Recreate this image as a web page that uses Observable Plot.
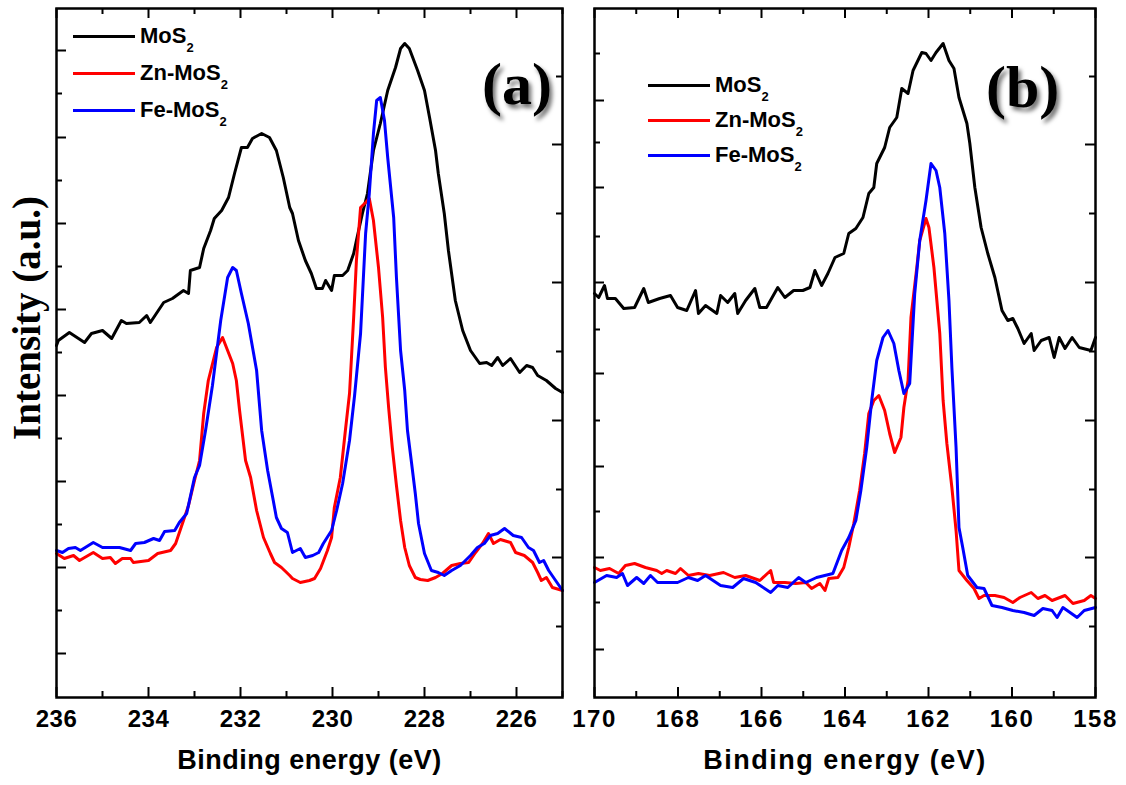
<!DOCTYPE html>
<html><head><meta charset="utf-8">
<script src="https://cdn.jsdelivr.net/npm/d3@7"></script>
<script src="https://cdn.jsdelivr.net/npm/@observablehq/plot@0.6"></script>
<style>
body{margin:0;background:#fff;}
#wrap{position:relative;width:1126px;height:785px;overflow:hidden;font-family:"Liberation Sans",Arial,sans-serif;}
.panel{position:absolute;top:0;}
.row{position:absolute;display:flex;align-items:center;white-space:nowrap;font-weight:bold;font-size:22px;line-height:24px;color:#000;}
.sw{display:inline-block;width:62px;height:3px;margin-right:5px;}
.row sub{font-size:13px;vertical-align:-9px;line-height:0;}
.tag{position:absolute;font-family:"Liberation Serif",serif;font-weight:bold;font-size:60px;line-height:1;color:#000;text-shadow:3px 4px 4px rgba(0,0,0,0.55);}
.ytitle{position:absolute;left:26px;top:318px;transform:translate(-50%,-50%) rotate(-90deg);font-family:"Liberation Serif",serif;font-weight:bold;font-size:39px;line-height:1;white-space:nowrap;color:#000;}
</style></head>
<body><div id="wrap"></div>
<script>
// ---------- DATA (binding energy eV, intensity a.u.) ----------
const seriesNames = ["MoS2", "Zn-MoS2", "Fe-MoS2"];
const seriesColors = ["#000000", "#ff0000", "#0000ff"];

// Panel (a): Mo 3d region
const a_MoS2 = [[236.00,352],[235.96,357],[235.72,365],[235.39,355],[235.24,364],[235.00,367],[234.80,359],[234.59,377],[234.48,374],[234.20,375],[234.04,382],[233.96,375],[233.67,395],[233.48,399],[233.24,407],[233.13,404],[233.09,427],[232.89,430],[232.80,449],[232.65,467],[232.57,479],[232.41,487],[232.26,500],[232.13,524],[231.98,550],[231.85,550],[231.74,559],[231.54,564],[231.37,560],[231.22,547],[231.07,520],[230.93,490],[230.87,484],[230.74,457],[230.59,437],[230.46,424],[230.35,409],[230.22,409],[230.15,417],[230.02,407],[229.96,422],[229.78,422],[229.67,427],[229.54,444],[229.48,457],[229.35,484],[229.24,504],[229.11,547],[228.96,574],[228.80,607],[228.63,630],[228.52,649],[228.43,654],[228.33,649],[228.15,627],[228.00,607],[227.89,580],[227.76,547],[227.70,524],[227.57,484],[227.48,447],[227.33,397],[227.17,367],[227.00,347],[226.80,334],[226.65,335],[226.54,332],[226.41,340],[226.30,332],[226.13,339],[225.93,325],[225.78,332],[225.65,330],[225.54,322],[225.35,317],[225.15,309],[225.00,305]];
const a_Zn = [[236.00,144],[235.83,139],[235.63,142],[235.50,137],[235.20,145],[235.00,139],[234.83,140],[234.72,134],[234.57,139],[234.39,139],[234.33,135],[234.00,137],[233.80,144],[233.52,147],[233.41,154],[233.24,177],[233.13,192],[233.00,217],[232.89,237],[232.80,284],[232.70,317],[232.52,350],[232.39,360],[232.28,347],[232.17,334],[232.09,317],[232.02,287],[231.89,237],[231.78,220],[231.65,187],[231.50,160],[231.35,144],[231.26,135],[231.11,130],[230.93,122],[230.87,119],[230.70,115],[230.50,117],[230.39,119],[230.26,129],[230.11,147],[230.02,160],[229.96,190],[229.83,220],[229.72,267],[229.63,304],[229.54,380],[229.48,437],[229.39,490],[229.28,495],[229.20,499],[229.11,477],[229.00,430],[228.91,380],[228.85,330],[228.78,290],[228.70,250],[228.61,212],[228.52,177],[228.43,150],[228.33,132],[228.20,120],[228.09,118],[227.93,117],[227.76,120],[227.61,124],[227.41,132],[227.22,134],[227.04,135],[226.89,145],[226.74,154],[226.61,164],[226.50,154],[226.35,158],[226.13,155],[226.02,145],[225.83,142],[225.65,135],[225.54,125],[225.46,117],[225.35,120],[225.22,110],[225.00,107]];
const a_Fe = [[236.00,147],[235.87,145],[235.74,149],[235.59,150],[235.48,147],[235.20,155],[235.00,150],[234.63,150],[234.39,147],[234.28,154],[234.09,155],[233.89,159],[233.76,157],[233.65,166],[233.43,167],[233.33,175],[233.17,184],[233.00,220],[232.89,232],[232.76,267],[232.61,312],[232.43,377],[232.28,420],[232.17,430],[232.09,427],[231.98,404],[231.83,374],[231.65,327],[231.54,267],[231.41,227],[231.30,200],[231.22,180],[231.11,169],[230.98,165],[230.87,145],[230.70,149],[230.59,140],[230.43,142],[230.30,145],[230.20,154],[230.02,167],[229.91,187],[229.78,214],[229.63,257],[229.52,302],[229.39,364],[229.28,464],[229.20,504],[229.11,564],[229.04,597],[228.96,600],[228.87,577],[228.80,540],[228.67,480],[228.61,420],[228.52,347],[228.43,307],[228.37,267],[228.28,234],[228.20,204],[228.13,174],[228.00,144],[227.85,127],[227.70,125],[227.57,122],[227.41,127],[227.22,132],[227.00,142],[226.85,150],[226.70,154],[226.57,162],[226.41,164],[226.26,169],[226.07,162],[225.89,160],[225.74,150],[225.63,147],[225.50,135],[225.41,137],[225.30,127],[225.15,117],[225.00,107]];

// Panel (b): S 2p region
const b_MoS2 = [[170.00,404],[169.90,400],[169.76,412],[169.69,399],[169.50,399],[169.30,389],[169.04,390],[168.82,409],[168.71,395],[168.44,399],[168.18,402],[168.01,390],[167.79,387],[167.58,407],[167.51,384],[167.34,392],[167.07,384],[166.98,402],[166.81,395],[166.64,404],[166.57,384],[166.38,397],[166.16,409],[166.04,390],[165.88,390],[165.61,410],[165.44,400],[165.23,407],[165.01,407],[164.84,410],[164.72,427],[164.56,412],[164.41,424],[164.24,440],[164.03,444],[163.91,464],[163.74,469],[163.57,480],[163.43,504],[163.31,510],[163.24,534],[163.05,550],[162.93,570],[162.76,580],[162.64,609],[162.49,604],[162.37,627],[162.16,645],[162.06,644],[161.94,637],[161.82,645],[161.65,654],[161.51,637],[161.39,629],[161.27,600],[161.08,574],[161.01,554],[160.89,510],[160.74,470],[160.58,444],[160.41,420],[160.24,387],[160.10,377],[159.98,379],[159.86,369],[159.71,354],[159.54,364],[159.47,347],[159.30,357],[159.11,360],[158.99,340],[158.87,360],[158.73,349],[158.56,360],[158.39,350],[158.11,347],[158.00,360]];
const b_Zn = [[170.00,130],[169.86,127],[169.64,129],[169.42,124],[169.26,132],[169.04,134],[168.78,130],[168.51,127],[168.39,124],[168.27,127],[168.06,124],[167.94,129],[167.75,122],[167.51,124],[167.24,122],[166.91,125],[166.64,120],[166.38,122],[166.04,117],[165.78,127],[165.71,115],[165.44,115],[165.18,114],[164.94,115],[164.80,109],[164.60,114],[164.48,107],[164.39,119],[164.17,120],[164.03,130],[163.91,150],[163.79,174],[163.65,207],[163.53,244],[163.43,284],[163.31,297],[163.19,302],[163.05,287],[162.93,264],[162.81,245],[162.66,260],[162.59,290],[162.49,317],[162.42,380],[162.28,430],[162.21,457],[162.06,479],[161.99,470],[161.87,430],[161.73,364],[161.65,297],[161.56,254],[161.44,210],[161.34,167],[161.27,127],[161.08,117],[160.91,109],[160.79,99],[160.67,102],[160.41,102],[160.19,100],[159.98,95],[159.81,100],[159.54,105],[159.38,99],[159.21,102],[159.04,97],[158.73,102],[158.54,94],[158.27,97],[158.11,102],[158.00,99]];
const b_Fe = [[170.00,115],[169.71,122],[169.47,120],[169.33,124],[169.21,112],[168.99,120],[168.82,114],[168.66,122],[168.49,115],[168.01,115],[167.75,120],[167.53,117],[167.34,122],[166.98,112],[166.69,110],[166.43,119],[166.14,115],[165.78,105],[165.61,112],[165.37,110],[165.11,120],[164.94,115],[164.68,120],[164.29,124],[164.08,147],[163.91,160],[163.74,177],[163.62,207],[163.48,250],[163.36,297],[163.24,337],[163.09,360],[162.97,367],[162.83,354],[162.71,327],[162.59,304],[162.45,314],[162.33,404],[162.21,457],[162.06,497],[161.94,534],[161.82,527],[161.73,510],[161.61,464],[161.51,397],[161.44,330],[161.34,250],[161.27,170],[161.18,150],[161.06,122],[160.84,110],[160.67,109],[160.48,92],[160.24,90],[159.98,87],[159.71,85],[159.47,82],[159.26,89],[159.04,87],[158.92,80],[158.78,90],[158.44,80],[158.27,87],[158.00,90]];

// Axis ticks
const aXMajor = [236, 234, 232, 230, 228, 226];
const aXMinor = [235, 233, 231, 229, 227, 225];
const bXMajor = [170, 168, 166, 164, 162, 160, 158];
const bXMinor = [169, 167, 165, 163, 161, 159];
const aYLeftMajor = [647, 560, 474, 388, 302, 216, 130, 44];
const aYLeftMinor = [604, 517, 431, 345, 259, 173, 87];
const bYLeftMajor = [597, 510, 415, 324, 231, 140, 48];
const bYLeftMinor = [644, 555, 461, 368, 277, 186, 95];
const yRightMajor = [553, 415, 277, 140];
const yRightMinor = [621, 484, 346, 208, 71];

const xTitle = "Binding energy (eV)";
const yTitle = "Intensity (a.u.)";
const panelTags = ["(a)", "(b)"];

// ---------- DRAWING ----------
const H = 785, MT = 8, MB = 88;

function panel(o) {
  const pw = o.width - o.ml - o.mr, ph = H - MT - MB;
  const lines = o.series.map((s, i) => Plot.line(s, {x: d => d[0], y: d => d[1], stroke: seriesColors[i], strokeWidth: 3, strokeLinejoin: "round"}));
  const tw = 2;
  const marks = [
    ...lines,
    Plot.tickX(o.xMajor, {x: d => d, insetTop: ph - 10, strokeWidth: tw}),
    Plot.tickX(o.xMinor, {x: d => d, insetTop: ph - 6, strokeWidth: tw}),
    Plot.tickX(o.xMajor, {x: d => d, insetBottom: ph - 10, strokeWidth: tw}),
    Plot.tickX(o.xMinor, {x: d => d, insetBottom: ph - 6, strokeWidth: tw}),
    Plot.tickY(o.yLMajor, {y: d => d, insetRight: pw - 10, strokeWidth: tw}),
    Plot.tickY(o.yLMinor, {y: d => d, insetRight: pw - 6, strokeWidth: tw}),
    Plot.tickY(o.yRMajor, {y: d => d, insetLeft: pw - 10, strokeWidth: tw}),
    Plot.tickY(o.yRMinor, {y: d => d, insetLeft: pw - 6, strokeWidth: tw}),
    Plot.axisX({ticks: o.xMajor, tickSize: 0, tickPadding: 12, fontSize: 24, fontWeight: "bold", label: null, tickFormat: d => String(d)}),
    Plot.text([xTitle], {frameAnchor: "bottom", dy: 71, fontSize: 27, fontWeight: "bold"}),
    Plot.frame({strokeWidth: 2.5})
  ];
  return Plot.plot({
    width: o.width, height: H, marginTop: MT, marginBottom: MB, marginLeft: o.ml, marginRight: o.mr,
    style: {fontFamily: "'Liberation Sans', Arial, sans-serif", background: "transparent", letterSpacing: o.ls, overflow: "visible"},
    x: {domain: o.xDomain},
    y: {domain: [0, 689], axis: null},
    marks
  });
}

const wrap = document.getElementById("wrap");

const pa = panel({width: 575, ml: 56, mr: 13, xDomain: [236, 225], series: [a_MoS2, a_Zn, a_Fe],
  xMajor: aXMajor, xMinor: aXMinor, yLMajor: aYLeftMajor, yLMinor: aYLeftMinor, yRMajor: yRightMajor, yRMinor: yRightMinor, ls: "0.5px"});
const pb = panel({width: 551, ml: 19, mr: 31, xDomain: [170, 158], series: [b_MoS2, b_Zn, b_Fe],
  xMajor: bXMajor, xMinor: bXMinor, yLMajor: bYLeftMajor, yLMinor: bYLeftMinor, yRMajor: yRightMajor, yRMinor: yRightMinor, ls: "1.5px"});

const da = document.createElement("div"); da.className = "panel"; da.style.left = "0px"; da.appendChild(pa); wrap.appendChild(da);
const db = document.createElement("div"); db.className = "panel"; db.style.left = "575px"; db.appendChild(pb); wrap.appendChild(db);

const yt = document.createElement("div"); yt.className = "ytitle"; yt.textContent = yTitle; wrap.appendChild(yt);

function legend(left, tops) {
  seriesNames.forEach((name, i) => {
    const row = document.createElement("div");
    row.className = "row";
    row.style.left = left + "px";
    row.style.top = tops[i] + "px";
    const sw = document.createElement("span");
    sw.className = "sw"; sw.style.background = seriesColors[i];
    row.appendChild(sw);
    const t = document.createElement("span");
    t.innerHTML = name.slice(0, -1) + "<sub>" + name.slice(-1) + "</sub>";
    row.appendChild(t);
    wrap.appendChild(row);
  });
}
legend(73, [24, 61, 98]);
legend(648, [73, 108, 143]);

function tag(text, left, top) {
  const d = document.createElement("div");
  d.className = "tag"; d.textContent = text;
  d.style.left = left + "px"; d.style.top = top + "px";
  wrap.appendChild(d);
}
tag(panelTags[0], 482, 54);
tag(panelTags[1], 986, 57);
</script></body></html>
